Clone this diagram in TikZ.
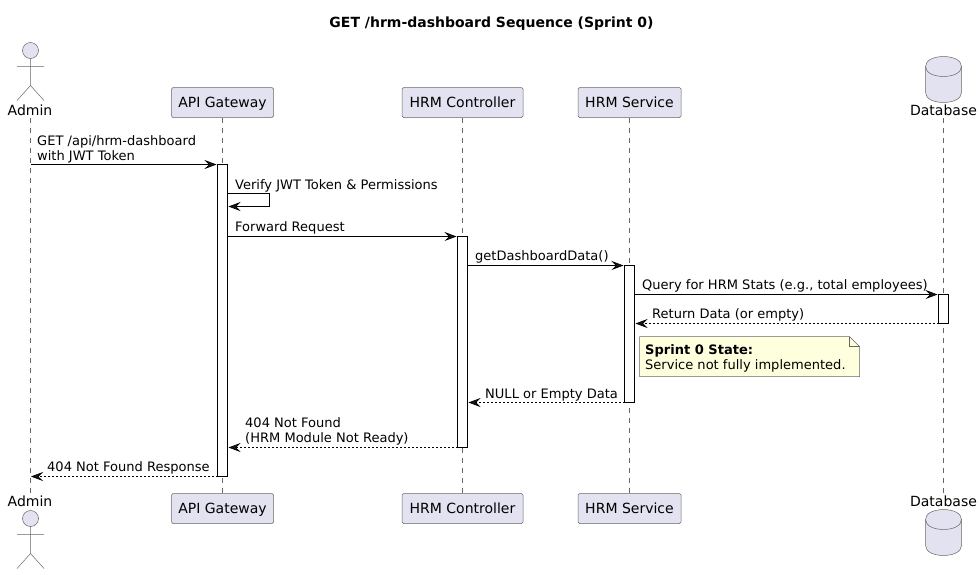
\documentclass[tikz,border=0pt]{standalone}
\usepackage{fontspec}
\setmainfont{DejaVu Sans}
\usetikzlibrary{arrows.meta,shapes.geometric}
\definecolor{partfill}{HTML}{E2E2F0}
\definecolor{partline}{HTML}{666666}
\definecolor{wire}{HTML}{181818}
\definecolor{notefill}{HTML}{FEFFDD}
\tikzset{
  x=1pt,y=-1pt,
  part/.style={draw=partline,fill=partfill,line width=0.5pt,rounded corners=1.5pt,minimum height=30pt,inner sep=0pt,text height=11pt,text depth=1.4pt,font=\fontsize{14}{16}\selectfont,text=black},
  actorlabel/.style={inner sep=0pt,font=\fontsize{14}{16}\selectfont,text=black,anchor=base},
  actorline/.style={draw=partline,line width=0.5pt},
  lifeline/.style={draw=partline,line width=0.5pt,dash pattern=on 5pt off 5pt},
  bar/.style={draw=black,fill=white,line width=0.7pt,minimum width=10pt,inner sep=0pt},
  msg/.style={draw=black,line width=0.7pt,-{Stealth[length=12pt,width=9pt,inset=4.5pt,fill=wire]}},
  reply/.style={msg,dash pattern=on 2pt off 2pt},
  lbl/.style={inner sep=0pt,anchor=base west,font=\fontsize{13.03}{15}\selectfont,text=black},
  notebody/.style={draw=partline,fill=notefill,line width=0.5pt},
}
\begin{document}
\begin{tikzpicture}
\useasboundingbox (0,0) rectangle (979,574);
\node[inner sep=0pt,font=\bfseries\fontsize{14}{16}\selectfont] (title) at (491.5,23.5) {GET /hrm-dashboard Sequence (Sprint 0)};

% participants
\node[actorlabel] (adminT) at (30,115) {Admin};
\node[actorlabel] (adminB) at (30,506) {Admin};
\node[part,minimum width=102pt] (apiT) at (222.5,102.5) {API Gateway};
\node[part,minimum width=102pt] (apiB) at (222.5,508.5) {API Gateway};
\node[part,minimum width=121pt] (ctlT) at (462.5,102.5) {HRM Controller};
\node[part,minimum width=103pt] (svcT) at (629.5,102.5) {HRM Service};
\node[part,minimum width=121pt] (ctlB) at (462.5,508.5) {HRM Controller};
\node[part,minimum width=103pt] (svcB) at (629.5,508.5) {HRM Service};
\node[actorlabel] (dbT) at (943.5,115) {Database};
\node[actorlabel] (dbB) at (943.5,506) {Database};

% lifelines
\coordinate (adminTop) at (30.5,118);
\coordinate (adminBot) at (30.5,493);
\coordinate (dbTop) at (943.5,118);
\coordinate (dbBot) at (943.5,493);
\draw[lifeline] (adminTop) -- (adminBot);
\draw[lifeline] (apiT.south) -- (apiB.north);
\draw[lifeline] (ctlT.south) -- (ctlB.north);
\draw[lifeline] (svcT.south) -- (svcB.north);
\draw[lifeline] (dbTop) -- (dbBot);

% actors
\foreach \yy in {0,468}{
  \begin{scope}[yshift=-\yy pt]
    \draw[actorline,fill=partfill] (30.5,50.5) circle[radius=8];
    \draw[actorline] (30.5,58.5) -- (30.5,85.5) (17,66.5) -- (44,66.5) (17,100.5) -- (30.5,85.5) -- (44,100.5);
  \end{scope}
}

% databases
\foreach \yy in {0,453}{
  \begin{scope}[yshift=-\yy pt]
    \draw[actorline,fill=partfill] (925.5,66.5) .. controls (925.5,53.2) and (961.5,53.2) .. (961.5,66.5)
      -- (961.5,92.5) .. controls (961.5,105.8) and (925.5,105.8) .. (925.5,92.5) -- cycle;
    \draw[actorline] (925.5,66.5) .. controls (925.5,79.8) and (961.5,79.8) .. (961.5,66.5);
  \end{scope}
}

% activation bars
\node[bar,minimum height=312pt] (barApi) at (222.5,320.5) {};
\node[bar,minimum height=211pt] (barCtl) at (462.5,342) {};
\node[bar,minimum height=137pt] (barSvc) at (629.5,334) {};
\node[bar,minimum height=29pt] (barDb) at (943.5,309) {};

% message ends
\coordinate (m1a) at (30.5,164.5);
\coordinate (m1b) at (216.5,164.5);
\coordinate (m2a) at (227.5,193.5);
\coordinate (m2r) at (269.5,193.5);
\coordinate (m2s) at (269.5,206.5);
\coordinate (m2b) at (228.5,206.5);
\coordinate (m3a) at (227.5,236.5);
\coordinate (m3b) at (456.5,236.5);
\coordinate (m4a) at (467.5,265.5);
\coordinate (m4b) at (623.5,265.5);
\coordinate (m5a) at (634.5,294.5);
\coordinate (m5b) at (937.5,294.5);
\coordinate (m6a) at (938.5,323.5);
\coordinate (m6b) at (635.5,323.5);
\coordinate (m7a) at (624.5,402.5);
\coordinate (m7b) at (468.5,402.5);
\coordinate (m8a) at (457.5,447.5);
\coordinate (m8b) at (228.5,447.5);
\coordinate (m9a) at (217.5,476.5);
\coordinate (m9b) at (31,476.5);

\draw[msg] (m1a) -- (m1b);
\draw[msg] (m2a) -- (m2r) -- (m2s) -- (m2b);
\draw[msg] (m3a) -- (m3b);
\draw[msg] (m4a) -- (m4b);
\draw[msg] (m5a) -- (m5b);
\draw[reply] (m6a) -- (m6b);
\draw[reply] (m7a) -- (m7b);
\draw[reply] (m8a) -- (m8b);
\draw[reply] (m9a) -- (m9b);

% labels
\node[lbl] (t1a) at (37,145.5) {GET /api/hrm-dashboard};
\node[lbl] (t1b) at (37,160.5) {with JWT Token};
\node[lbl] (t2) at (235,189.5) {Verify JWT Token \& Permissions};
\node[lbl] (t3) at (235,231.5) {Forward Request};
\node[lbl] (t4) at (475,260.5) {getDashboardData()};
\node[lbl] (t5) at (642,289) {Query for HRM Stats (e.g., total employees)};
\node[lbl] (t6) at (652,318.5) {Return Data (or empty)};
\node[lbl] (t7) at (485,398) {NULL or Empty Data};
\node[lbl] (t8a) at (245,427.5) {404 Not Found};
\node[lbl] (t8b) at (245,442.5) {(HRM Module Not Ready)};
\node[lbl] (t9) at (47,471) {404 Not Found Response};

% note
\draw[notebody] (639.5,336.5) -- (849.5,336.5) -- (859.5,346.5) -- (859.5,376.5) -- (639.5,376.5) -- cycle;
\draw[notebody,fill=none] (849.5,336.5) -- (849.5,346.5) -- (859.5,346.5);
\node[lbl] (n1) at (645,354) {\bfseries Sprint 0 State:};
\node[lbl] (n2) at (645,369) {Service not fully implemented.};
\end{tikzpicture}
\end{document}
